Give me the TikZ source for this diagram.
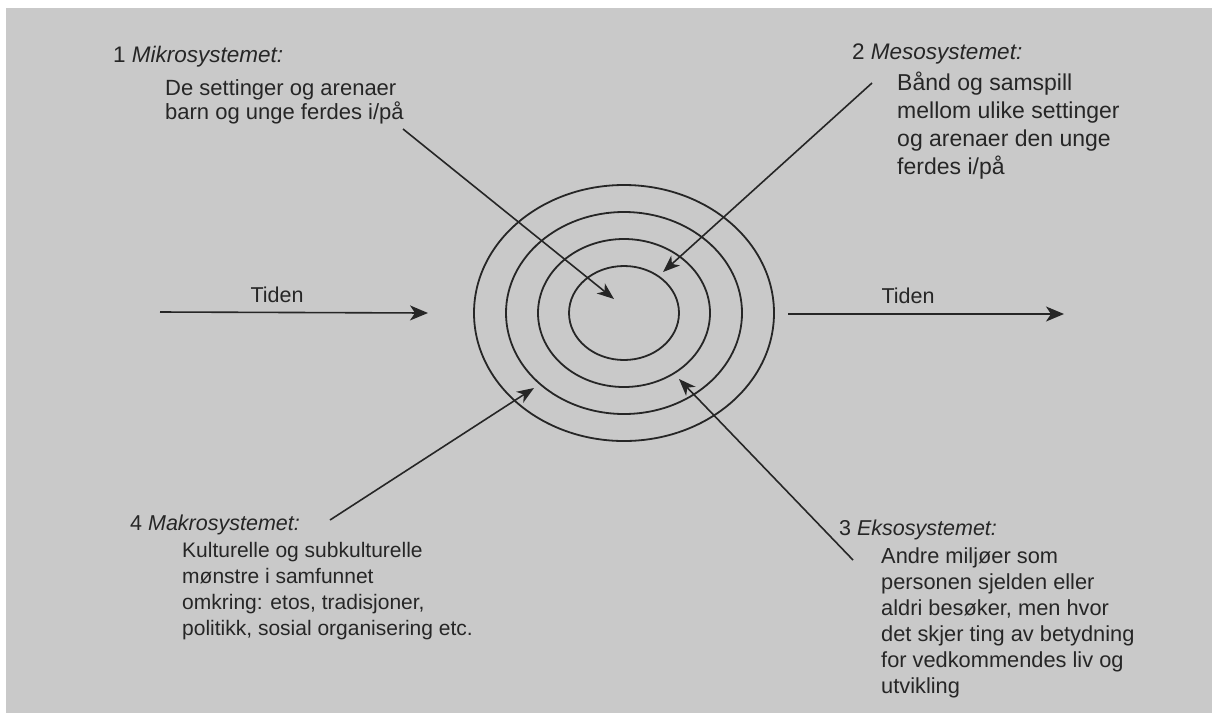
\documentclass[tikz,border=0pt]{standalone}
\usepackage{fontspec}
\setmainfont{Liberation Sans}
\usetikzlibrary{arrows.meta}
\definecolor{paper}{HTML}{C9C9C9}
\definecolor{ink}{HTML}{262626}
\begin{document}
\begin{tikzpicture}[x=1pt,y=-1pt,
  txt/.style={anchor=base west,inner sep=0pt,align=left,text=ink},
  ring/.style={draw=ink,line width=1.8pt},
  pointer/.style={draw=ink,line width=1.6pt,-{Stealth[length=17pt,width=13pt,inset=5pt]}},
  timearrow/.style={draw=ink,line width=1.6pt,-{Stealth[length=18pt,width=15pt,inset=5pt]}},
  timelbl/.style={anchor=base,inner sep=0pt,text=ink,font=\fontsize{21.5}{26}\selectfont}]
\useasboundingbox (0,0) rectangle (1212,713);
\fill[white] (0,0) rectangle (1212,713);
\fill[paper] (6,8) rectangle (1212,713);

% rings
\coordinate (c) at (624,313);
\draw[ring] (c) ellipse [x radius=55, y radius=47];
\draw[ring] (c) ellipse [x radius=86, y radius=74];
\draw[ring] (c) ellipse [x radius=118, y radius=101];
\draw[ring] (c) ellipse [x radius=150, y radius=128];

% texts (body nodes are anchored at the baseline of their last line)
\node[txt,font=\fontsize{22.5}{24}\selectfont] (t1) at (113,62) {1 \textit{Mikrosystemet:}};
\node[txt,font=\fontsize{22}{24}\selectfont] (b1) at (165,119) {De settinger og arenaer\\barn og unge ferdes i/på};

\node[txt,font=\fontsize{22.5}{28}\selectfont] (t2) at (852,59) {2 \textit{Mesosystemet:}};
\node[txt,font=\fontsize{23}{28}\selectfont] (b2) at (897,174) {Bånd og samspill\\mellom ulike settinger\\og arenaer den unge\\ferdes i/på};

\node[txt,font=\fontsize{21.5}{26}\selectfont] (t4) at (130,530) {4 \textit{Makrosystemet:}};
\node[txt,font=\fontsize{21}{26}\selectfont] (b4) at (182,635) {Kulturelle og subkulturelle\\mønstre i samfunnet\\omkring: etos, tradisjoner,\\politikk, sosial organisering etc.};

\node[txt,font=\fontsize{21.5}{26}\selectfont] (t3) at (839,535) {3 \textit{Eksosystemet:}};
\node[txt,font=\fontsize{21.8}{26}\selectfont] (b3) at (881,693) {Andre miljøer som\\personen sjelden eller\\aldri besøker, men hvor\\det skjer ting av betydning\\for vedkommendes liv og\\utvikling};

% pointers
\coordinate (m1s) at (403,129);
\coordinate (m1e) at (614,299);
\draw[pointer] (m1s) -- (m1e);
\coordinate (m2s) at (872,83);
\coordinate (m2e) at (663,272);
\draw[pointer] (m2s) -- (m2e);
\coordinate (m4s) at (330,520);
\coordinate (m4e) at (534,388);
\draw[pointer] (m4s) -- (m4e);
\coordinate (m3s) at (853,560);
\coordinate (m3e) at (679,379);
\draw[pointer] (m3s) -- (m3e);

% time
\coordinate (tl1) at (160,312);
\coordinate (tl2) at (428,313);
\draw[timearrow] (tl1) -- (tl2);
\node[timelbl] (tlab1) at (277,302) {Tiden};
\coordinate (tr1) at (788,314);
\coordinate (tr2) at (1064,314);
\draw[timearrow] (tr1) -- (tr2);
\node[timelbl] (tlab2) at (908,303) {Tiden};
\end{tikzpicture}
\end{document}
